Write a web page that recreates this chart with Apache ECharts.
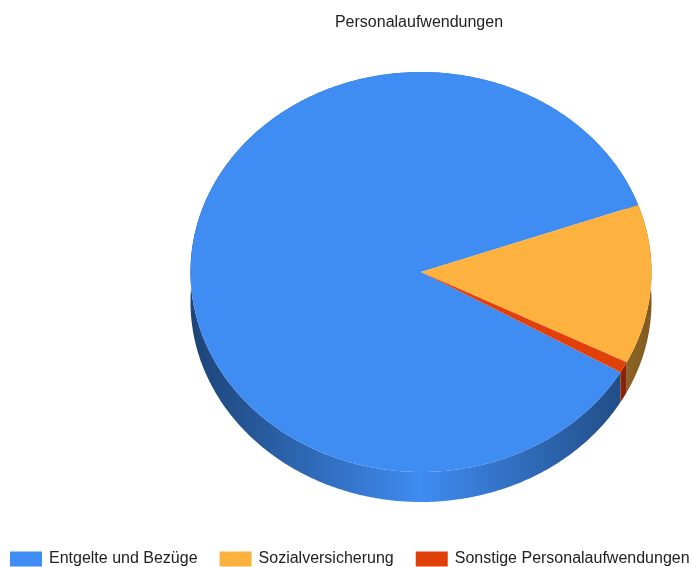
<!DOCTYPE html>
<html><head><meta charset="utf-8">
<style>html,body{margin:0;padding:0;background:#fff}#c{width:693px;height:567px}</style>
<script src="https://cdn.jsdelivr.net/npm/echarts@6/dist/echarts.min.js"></script>
</head><body><div id="c"></div>
<script>
const chartTitle = 'Personalaufwendungen';
const categories = ['Entgelte und Bezüge', 'Sozialversicherung', 'Sonstige Personalaufwendungen'];
const values = [86.2, 12.9, 0.9];
const topColors = ['#3f8cf2', '#fdb13f', '#e2400a'];
const sideDark = ['#1d4477', '#7f5a20', '#7a2006'];
const sideMid = ['#3f8cf2', '#fdb13f', '#e2400a'];

const cx = 421, cy = 272, rx = 230.5, ry = 200, depth = 30;
const startDeg = 30.1;
const total = values.reduce((a, b) => a + b, 0);

function arcPoints(a0, a1, dy) {
  const pts = [], n = Math.max(2, Math.ceil(Math.abs(a1 - a0) * 2));
  for (let i = 0; i <= n; i++) {
    const t = (a0 + (a1 - a0) * i / n) * Math.PI / 180;
    pts.push([cx + rx * Math.cos(t), cy + ry * Math.sin(t) + dy]);
  }
  return pts;
}

function renderSlice(idx) {
  return function (params, api) {
    let before = 0;
    for (let i = 0; i < idx; i++) before += values[i];
    const a0 = startDeg + before / total * 360;
    const a1 = a0 + api.value(0) / total * 360;
    const top = arcPoints(a0, a1, 0);
    const bottom = arcPoints(a0, a1, depth).reverse();
    return {
      type: 'group',
      children: [
        {
          type: 'polygon', z2: 1,
          shape: { points: top.concat(bottom) },
          style: {
            fill: {
              type: 'linear', global: true, x: cx - rx, y: 0, x2: cx + rx, y2: 0,
              colorStops: [
                { offset: 0, color: sideDark[idx] },
                { offset: 0.5, color: sideMid[idx] },
                { offset: 1, color: sideDark[idx] }
              ]
            }
          }
        },
        {
          type: 'polygon', z2: 2,
          shape: { points: [[cx, cy]].concat(top) },
          style: { fill: topColors[idx] }
        }
      ]
    };
  };
}

const chart = echarts.init(document.getElementById('c'), null, { renderer: 'canvas' });
chart.setOption({
  animation: false,
  backgroundColor: '#fff',
  title: {
    text: chartTitle, left: 414, top: 10, textAlign: 'center',
    textStyle: { fontFamily: 'Liberation Sans', fontSize: 16, fontWeight: 'normal', color: '#222' }
  },
  legend: {
    left: 10, top: 551, itemWidth: 32, itemHeight: 15, itemGap: 22,
    icon: 'rect', padding: 0, itemStyle: { borderWidth: 0 },
    data: categories, selectedMode: false,
    textStyle: { fontFamily: 'Liberation Sans', fontSize: 16, color: '#222', padding: [2, 0, 0, 2] }
  },
  series: categories.map((name, i) => ({
    type: 'custom', name, coordinateSystem: 'none', silent: true,
    itemStyle: { color: topColors[i] },
    renderItem: renderSlice(i),
    data: [[values[i]]]
  }))
});
</script></body></html>
